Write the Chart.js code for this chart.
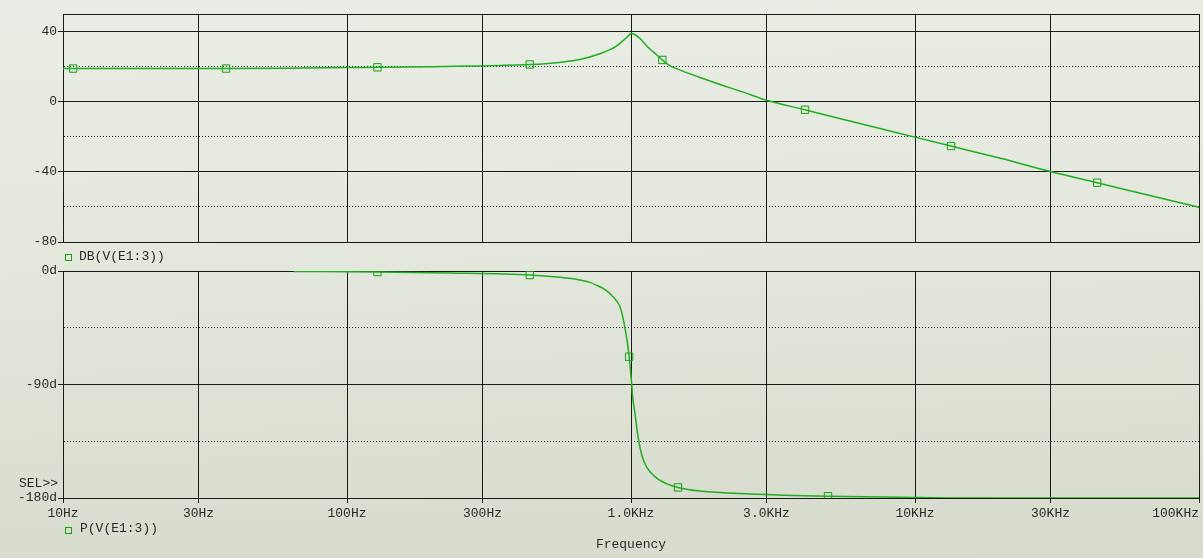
<!DOCTYPE html>
<html>
<head>
<meta charset="utf-8">
<title>Bode plot - E1:3</title>
<script src="https://cdn.jsdelivr.net/npm/chart.js@4/dist/chart.umd.min.js"></script>
<style>
  html, body { margin: 0; padding: 0; }
  body {
    width: 1203px; height: 558px; position: relative; overflow: hidden;
    background: linear-gradient(178deg, #eaede5 0%, #e3e7dc 45%, #d6dbcc 100%);
    font: 13px 'Liberation Mono', 'Courier New', monospace; color: #2b2b2b;
  }
  canvas { position: absolute; left: 0; }
  #magCanvas { top: 0; }
  #phaseCanvas { top: 250px; }
  .lbl { position: absolute; line-height: 16px; white-space: pre; }
  .key { position: absolute; width: 5px; height: 5px; border: 1px solid #14a314; }
</style>
</head>
<body>
<canvas id="magCanvas" width="1203" height="250"></canvas>
<canvas id="phaseCanvas" width="1203" height="308"></canvas>

<span class="key" style="left:65px;top:254px"></span>
<div class="lbl" style="left:79px;top:249px">DB(V(E1:3))</div>
<div class="lbl" style="right:1145px;top:476px">SEL&gt;&gt;</div>
<span class="key" style="left:65px;top:527px"></span>
<div class="lbl" style="left:80px;top:521px">P(V(E1:3))</div>

<script>
// ---- frequency axis ----
const freqTicks  = [10, 30, 100, 300, 1000, 3000, 10000, 30000, 100000];
const freqLabels = ['10Hz', '30Hz', '100Hz', '300Hz', '1.0KHz', '3.0KHz', '10KHz', '30KHz', '100KHz'];

// ---- magnitude trace DB(V(E1:3)) ----
const magFreq = [10, 20, 40, 70, 100, 130, 200, 265, 350, 440, 500, 560, 660, 780, 880, 950, 985,
                 1005, 1030, 1076, 1120, 1166, 1230, 1289, 1360, 1490, 1750, 2000, 2500, 3000,
                 4100, 5000, 7000, 10000, 13400, 20000, 30000, 43800, 70000, 100000];
const magDb   = [18.9, 18.9, 18.9, 19.2, 19.5, 19.6, 19.9, 20.3, 20.7, 21.2, 21.7, 22.4, 24.0, 27.5, 31.2, 35.6, 38.0,
                 38.9, 38.3, 36.0, 32.9, 30.0, 26.8, 23.8, 20.9, 18.0, 13.8, 10.5, 5.3, 0.8,
                 -4.6, -8.1, -14.0, -20.2, -25.3, -32.3, -39.8, -46.2, -54.2, -60.2];
const magMarkFreq = [10.85, 37.5, 128, 440, 1289, 4100, 13400, 43800];
const magMarkDb   = [18.9, 18.9, 19.6, 21.2, 23.8, -4.6, -25.3, -46.2];

// ---- phase trace P(V(E1:3)) ----
const phaseFreq = [65, 128, 230, 440, 560, 661, 717, 760, 810, 865, 890, 915, 937, 950, 968, 985, 995,
                   1005, 1015, 1033, 1058, 1093, 1138, 1235, 1339, 1464, 1750, 2625, 4940, 8850, 15000, 100000];
const phaseDeg  = [-0.3, -0.8, -1.6, -3.2, -5.0, -7.1, -9.0, -11.5, -14.8, -20.4, -23.8, -28.3, -37.0, -44.0, -54.5, -68.0, -78.0,
                   -89.0, -101.0, -113.0, -131.0, -146.5, -156.0, -164.5, -168.8, -171.6, -174.5, -176.8, -178.6, -179.4, -180.0, -180.0];
const phaseMarkFreq = [128, 440, 985, 1464, 4940];
const phaseMarkDeg  = [-0.8, -3.2, -68.0, -171.6, -178.6];

// ---- vertical axes ----
const dbTicks        = [-80, -60, -40, -20, 0, 20, 40, 50];
const dbTickLabels   = ['-80', '', '-40', '', '0', '', '40', ''];
const degTicks       = [-180, -135, -90, -45, 0];
const degTickLabels  = ['-180d', '', '-90d', '', '0d'];

// ---- styling ----
const INK = '#1a1a1a';
const TEXT = '#2b2b2b';
const TRACE = '#1fae1f';
const MARK = '#12a012';
const FONT = { family: "'Liberation Mono', 'Courier New', monospace", size: 13 };

const toPoints = (xs, ys) => xs.map((x, i) => ({ x, y: ys[i] }));

function traceDataset(xs, ys) {
  return {
    data: toPoints(xs, ys),
    borderColor: TRACE, borderWidth: 1.5,
    pointRadius: 0, fill: false,
    cubicInterpolationMode: 'monotone'
  };
}

function markerDataset(xs, ys) {
  return {
    data: toPoints(xs, ys),
    showLine: false,
    pointStyle: 'rect', pointRadius: 5.2,
    pointBorderColor: MARK, pointBorderWidth: 1,
    pointBackgroundColor: 'rgba(0,0,0,0)'
  };
}

function valueAxis(min, max, ticks, labels) {
  const labelFor = v => { const i = ticks.indexOf(v); return i < 0 ? '' : labels[i]; };
  const isMinor = v => v > min && v < max && labelFor(v) === '';
  return {
    min, max,
    afterBuildTicks: s => { s.ticks = ticks.map(v => ({ value: v })); },
    afterFit: s => { s.width = 63; s.paddingTop = 0; s.paddingBottom = 0; },
    ticks: { autoSkip: false, padding: 1, color: TEXT, font: FONT, callback: v => labelFor(v) },
    grid: {
      color: INK, lineWidth: 1, drawTicks: true, tickLength: 5,
      tickColor: c => (c.tick && labelFor(c.tick.value)) ? INK : 'rgba(0,0,0,0)'
    },
    border: {
      display: true, color: INK, width: 1,
      dash: c => (c.tick && isMinor(c.tick.value)) ? [1, 2] : []
    }
  };
}

function freqAxis(withLabels) {
  const axis = {
    type: 'logarithmic', min: 10, max: 100000,
    afterBuildTicks: s => { s.ticks = freqTicks.map(v => ({ value: v })); },
    grid: { color: INK, lineWidth: 1, drawTicks: withLabels, tickLength: 5, tickColor: INK },
    border: { display: true, color: INK, width: 1 }
  };
  if (withLabels) {
    axis.afterFit = s => { s.height = 60; s.paddingLeft = 0; s.paddingRight = 0; };
    axis.ticks = {
      autoSkip: false, maxRotation: 0, minRotation: 0, padding: 3, color: TEXT, font: FONT,
      // the last label sits flush against the right edge of the plot
      callback: (v, i) => i === freqLabels.length - 1 ? freqLabels[i] + '      ' : freqLabels[i]
    };
    axis.title = { display: true, text: 'Frequency', color: TEXT, font: FONT, padding: { top: 20, bottom: 6 } };
  } else {
    axis.afterFit = s => { s.height = 0; s.paddingLeft = 0; s.paddingRight = 0; };
    axis.ticks = { display: false };
  }
  return axis;
}

function baseOptions(padding, xAxis, yAxis) {
  return {
    responsive: false, maintainAspectRatio: false, animation: false, events: [],
    layout: { padding, autoPadding: false },
    plugins: { legend: { display: false }, tooltip: { enabled: false } },
    scales: { x: xAxis, y: yAxis }
  };
}

new Chart(document.getElementById('magCanvas'), {
  type: 'line',
  data: { datasets: [traceDataset(magFreq, magDb), markerDataset(magMarkFreq, magMarkDb)] },
  options: baseOptions({ top: 14, left: 0, right: 4, bottom: 8 },
                       freqAxis(false),
                       valueAxis(-80, 50, dbTicks, dbTickLabels))
});

new Chart(document.getElementById('phaseCanvas'), {
  type: 'line',
  data: { datasets: [traceDataset(phaseFreq, phaseDeg), markerDataset(phaseMarkFreq, phaseMarkDeg)] },
  options: baseOptions({ top: 21, left: 0, right: 4, bottom: 0 },
                       freqAxis(true),
                       valueAxis(-180, 0, degTicks, degTickLabels))
});
</script>
</body>
</html>
